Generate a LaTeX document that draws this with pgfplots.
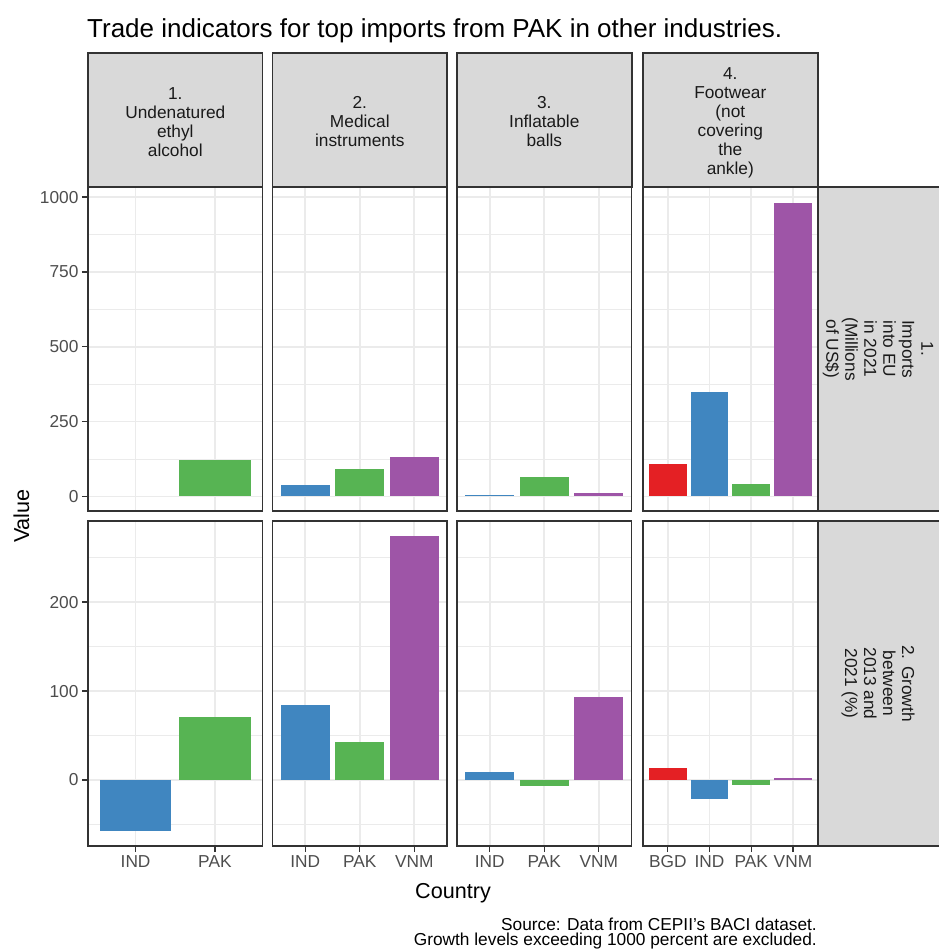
\documentclass[border=0pt]{standalone}
\usepackage{fontspec}
\setmainfont{Liberation Sans}
\usepackage{pgfplots}
\pgfplotsset{compat=1.18}

\definecolor{bgd}{RGB}{228,32,36}
\definecolor{ind}{RGB}{64,134,192}
\definecolor{pak}{RGB}{87,180,83}
\definecolor{vnm}{RGB}{158,85,167}
\definecolor{gridgray}{RGB}{235,235,235}
\definecolor{border}{RGB}{51,51,51}
\definecolor{stripbg}{RGB}{217,217,217}
\definecolor{ticktext}{RGB}{77,77,77}
\definecolor{striptext}{RGB}{26,26,26}

\pgfplotsset{
  panel/.style={
    scale only axis, anchor=north west,
    axis line style={border, line width=1.6bp},
    tick align=outside, xtick pos=bottom, ytick pos=left,
    major tick length=6bp, minor tick length=0pt,
    tick style={border, line width=1.4bp},
    xmajorgrids, ymajorgrids, yminorgrids,
    major grid style={gridgray, line width=1.6bp},
    minor grid style={gridgray, line width=0.9bp},
    ticklabel style={font=\fontsize{17.3bp}{20bp}\selectfont, text=ticktext},
    /pgf/number format/assume math mode=true,
    /pgf/number format/1000 sep={},
    every axis plot/.append style={ybar, bar width=0.9, bar shift=0pt, draw=none},
  },
  row1/.style={height=324bp, ymin=-49, ymax=1034,
    ytick={0,250,500,750,1000}, minor ytick={125,375,625,875},
    xticklabels={}, xtick style={draw=none}},
  row2/.style={height=325bp, ymin=-74.2, ymax=291.3,
    ytick={0,100,200}, minor ytick={-50,50,150,250}},
  inner/.style={yticklabels={}, ytick style={draw=none}},
  two/.style={width=174.5bp, xmin=0.4, xmax=2.6, xtick={1,2}},
  three/.style={width=174.5bp, xmin=0.4, xmax=3.6, xtick={1,2,3}},
  four/.style={width=175.3bp, xmin=0.4, xmax=4.6, xtick={1,2,3,4}},
}

\begin{document}
\begin{tikzpicture}
\useasboundingbox (0,0) rectangle (939bp,-951bp);
\clip (0,0) rectangle (939bp,-951bp);

% title
\node[anchor=base west, inner sep=0, font=\fontsize{26bp}{30bp}\selectfont]
  at (87bp,-37bp) {Trade indicators for top imports from PAK in other industries.};

% row 1: imports into EU in 2021 (millions of US$)
\begin{axis}[panel, row1, two, at={(88bp,-187bp)}]
% IND has no imports value here
\addplot[fill=pak] coordinates {(2,121)};
\end{axis}
\begin{axis}[panel, row1, inner, three, at={(272.5bp,-187bp)}]
\addplot[fill=ind] coordinates {(1,39)};
\addplot[fill=pak] coordinates {(2,93)};
\addplot[fill=vnm] coordinates {(3,133)};
\end{axis}
\begin{axis}[panel, row1, inner, three, at={(457bp,-187bp)}]
\addplot[fill=ind] coordinates {(1,5)};
\addplot[fill=pak] coordinates {(2,66)};
\addplot[fill=vnm] coordinates {(3,12)};
\end{axis}
\begin{axis}[panel, row1, inner, four, at={(642.7bp,-187bp)}]
\addplot[fill=bgd] coordinates {(1,107)};
\addplot[fill=ind] coordinates {(2,349)};
\addplot[fill=pak] coordinates {(3,41)};
\addplot[fill=vnm] coordinates {(4,982)};
\end{axis}

% row 2: growth between 2013 and 2021 (%)
\begin{axis}[panel, row2, two, at={(88bp,-521bp)}, xticklabels={IND,PAK}]
\addplot[fill=ind] coordinates {(1,-57.6)};
\addplot[fill=pak] coordinates {(2,70.6)};
\end{axis}
\begin{axis}[panel, row2, inner, three, at={(272.5bp,-521bp)}, xticklabels={IND,PAK,VNM}]
\addplot[fill=ind] coordinates {(1,84.5)};
\addplot[fill=pak] coordinates {(2,43)};
\addplot[fill=vnm] coordinates {(3,274.7)};
\end{axis}
\begin{axis}[panel, row2, inner, three, at={(457bp,-521bp)}, xticklabels={IND,PAK,VNM}]
\addplot[fill=ind] coordinates {(1,9)};
\addplot[fill=pak] coordinates {(2,-6.4)};
\addplot[fill=vnm] coordinates {(3,93)};
\end{axis}
\begin{axis}[panel, row2, inner, four, at={(642.7bp,-521bp)}, xticklabels={BGD,IND,PAK,VNM}]
\addplot[fill=bgd] coordinates {(1,14)};
\addplot[fill=ind] coordinates {(2,-21.6)};
\addplot[fill=pak] coordinates {(3,-5.7)};
\addplot[fill=vnm] coordinates {(4,2)};
\end{axis}

% facet strips
\tikzset{strip/.style={fill=stripbg, draw=border, line width=1.6bp},
  striplabel/.style={align=center, text=striptext, inner sep=0,
    font=\fontsize{17.3bp}{19bp}\selectfont}}
\draw[strip] (88bp,-53bp) rectangle (262.5bp,-187bp);
\draw[strip] (272.5bp,-53bp) rectangle (447bp,-187bp);
\draw[strip] (457bp,-53bp) rectangle (631.7bp,-187bp);
\draw[strip] (642.7bp,-53bp) rectangle (818bp,-187bp);
\draw[strip] (818bp,-187bp) rectangle (950bp,-511bp);
\draw[strip] (818bp,-521bp) rectangle (950bp,-846bp);
\node[striplabel] at (175.3bp,-122bp) {1.\\Undenatured\\ethyl\\alcohol};
\node[striplabel] at (359.8bp,-122bp) {2.\\Medical\\instruments};
\node[striplabel] at (544.3bp,-122bp) {3.\\Inflatable\\balls};
\node[striplabel] at (730.3bp,-123bp) {4.\\Footwear\\(not\\covering\\the\\ankle)};
\node[striplabel, rotate=-90] at (878bp,-349bp) {1.\\Imports\\into EU\\in 2021\\(Millions\\of US\$)};
\node[striplabel, rotate=-90] at (878bp,-683.5bp) {2. Growth\\between\\2013 and\\2021 (\%)};

% axis titles and caption
\node[font=\fontsize{21.6bp}{24bp}\selectfont, inner sep=0] at (453bp,-893bp) {Country};
\node[font=\fontsize{21.6bp}{24bp}\selectfont, inner sep=0, rotate=90] at (21.5bp,-516bp) {Value};
\node[anchor=base east, inner sep=0, font=\fontsize{17.3bp}{20bp}\selectfont]
  at (817bp,-930bp) {Source: Data from CEPII's BACI dataset.};
\node[anchor=base east, inner sep=0, font=\fontsize{17.3bp}{20bp}\selectfont]
  at (817bp,-945.5bp) {Growth levels exceeding 1000 percent are excluded.};
\end{tikzpicture}
\end{document}
